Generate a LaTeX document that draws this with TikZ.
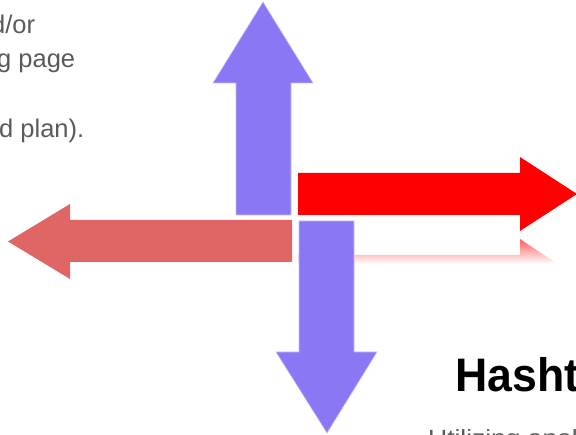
\documentclass[tikz,border=0pt]{standalone}
\usepackage{fontspec}
\setmainfont{Liberation Sans}
\definecolor{arrowpurple}{HTML}{8977F3}
\definecolor{arrowedge}{HTML}{C9C0FB}
\definecolor{lightred}{HTML}{E06666}
\definecolor{bodygray}{HTML}{5A5A5A}
\definecolor{headblack}{HTML}{000000}
\begin{document}
\begin{tikzpicture}[x=1pt,y=-1pt,
  bodytext/.style={anchor=base west, inner sep=0pt, text=bodygray, font=\fontsize{25.5}{30}\selectfont},
  purplearrow/.style={fill=arrowpurple, draw=arrowedge, line width=0.6pt, line join=miter},
  redarrow/.style={fill=red},
  paleredarrow/.style={fill=lightred},
]
\useasboundingbox (0,0) rectangle (576,435);
\clip (0,0) rectangle (576,435);
\fill[white] (0,0) rectangle (576,435);

% text at top left
\node[bodytext] (t1) at (-9,34) {d/or};
\node[bodytext] (t2) at (-3,68) {g page};
\node[bodytext] (t3) at (-1,137.5) {d plan).};

% up arrow
\path[purplearrow] (236,215) -- (236,83) -- (213,83) -- (263,2) -- (313,83) -- (291,83) -- (291,215) -- cycle;

% right arrow
\path[redarrow] (298,173) -- (520,173) -- (520,157) -- (577,194) -- (520,231) -- (520,215) -- (298,215) -- cycle;

% reflection of right arrow
\begin{scope}
  \clip (298,255) -- (520,255) -- (520,239) -- (577,277) -- (520,313) -- (520,297) -- (298,297) -- cycle;
  \shade[top color=red!65, bottom color=white] (298,238) rectangle (577,264);
\end{scope}

% left arrow
\path[paleredarrow] (292,220) -- (70,220) -- (70,204) -- (8,241.5) -- (70,279) -- (70,262) -- (292,262) -- cycle;

% down arrow
\path[purplearrow] (299,221) -- (354,221) -- (354,352) -- (377,352) -- (327,433) -- (276,352) -- (299,352) -- cycle;

% heading
\node[anchor=base west, inner sep=0pt, text=headblack, font=\fontsize{47}{50}\selectfont\bfseries] (heading) at (455,392) {\scalebox{0.95}[1]{Hasht}};

% body text at bottom
\node[bodytext, font=\fontsize{22}{26}\selectfont] (t4) at (428,446) {\scalebox{1.2}[1]{Utilizing anal}};
\end{tikzpicture}
\end{document}
